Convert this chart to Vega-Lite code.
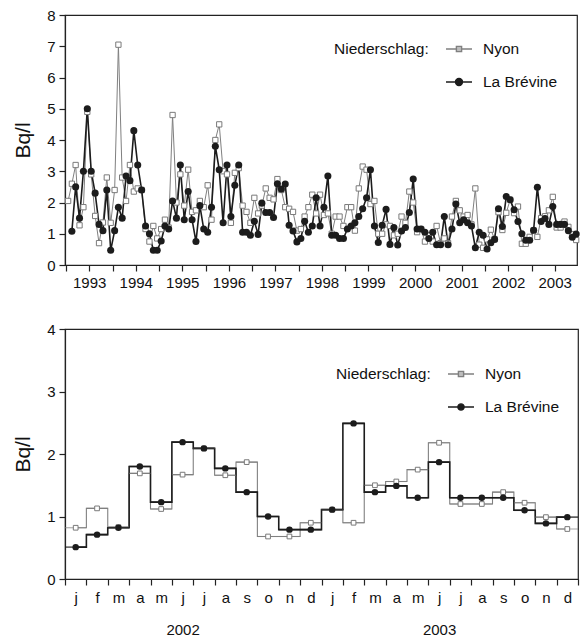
{
  "$schema": "https://vega.github.io/schema/vega-lite/v6.json",
  "padding": {"left": 12, "top": 7, "right": 4, "bottom": 0},
  "spacing": 30,
  "config": {
    "font": "Liberation Sans",
    "view": {"stroke": "#222", "strokeWidth": 1.2},
    "axis": {"domainColor": "#222", "domainWidth": 1.2, "tickColor": "#222", "tickWidth": 1.2, "tickSize": 6, "labelFontSize": 15, "labelColor": "#111", "titleColor": "#111", "titleFontWeight": "normal", "titleFontSize": 21, "grid": false, "labelPadding": 4},
    "legend": {"orient": "none", "titleOrient": "left", "titleAnchor": "start", "titleBaseline": "line-top", "titleLineHeight": 30, "titleFontSize": 15.5, "titleFontWeight": "normal", "titleColor": "#111", "labelFontSize": 15.5, "labelColor": "#111", "symbolSize": 676, "symbolStrokeWidth": 1.4, "symbolOpacity": 1, "rowPadding": 10, "titlePadding": 16, "labelOffset": 10, "padding": 0}
  },
  "resolve": {
    "scale": {"shape": "independent", "stroke": "independent", "fill": "independent"},
    "legend": {"shape": "independent", "stroke": "independent", "fill": "independent"}
  },
  "datasets": {
    "monthly": [
      {"d": "1993-01", "Nyon": 2.05, "La Brévine": null},
      {"d": "1993-02", "Nyon": 2.6, "La Brévine": 1.08},
      {"d": "1993-03", "Nyon": 3.2, "La Brévine": 2.5},
      {"d": "1993-04", "Nyon": 1.27, "La Brévine": 1.5},
      {"d": "1993-05", "Nyon": 1.85, "La Brévine": 3.0},
      {"d": "1993-06", "Nyon": 4.9, "La Brévine": 5.0},
      {"d": "1993-07", "Nyon": 2.9, "La Brévine": 3.0},
      {"d": "1993-08", "Nyon": 1.57, "La Brévine": 2.3},
      {"d": "1993-09", "Nyon": 0.7, "La Brévine": 1.3},
      {"d": "1993-10", "Nyon": 1.36, "La Brévine": 1.1},
      {"d": "1993-11", "Nyon": 2.8, "La Brévine": 2.4},
      {"d": "1993-12", "Nyon": 1.35, "La Brévine": 0.47},
      {"d": "1994-01", "Nyon": 2.4, "La Brévine": 1.1},
      {"d": "1994-02", "Nyon": 7.05, "La Brévine": 1.85},
      {"d": "1994-03", "Nyon": 2.8, "La Brévine": 1.5},
      {"d": "1994-04", "Nyon": 2.05, "La Brévine": 2.85},
      {"d": "1994-05", "Nyon": 3.2, "La Brévine": 2.7},
      {"d": "1994-06", "Nyon": 2.35, "La Brévine": 4.3},
      {"d": "1994-07", "Nyon": 2.45, "La Brévine": 3.2},
      {"d": "1994-08", "Nyon": 2.4, "La Brévine": 2.4},
      {"d": "1994-09", "Nyon": 1.15, "La Brévine": 1.25},
      {"d": "1994-10", "Nyon": 0.75, "La Brévine": 1.0},
      {"d": "1994-11", "Nyon": 1.25, "La Brévine": 0.47},
      {"d": "1994-12", "Nyon": 0.85, "La Brévine": 0.47},
      {"d": "1995-01", "Nyon": 1.15, "La Brévine": 0.77},
      {"d": "1995-02", "Nyon": 1.45, "La Brévine": 1.25},
      {"d": "1995-03", "Nyon": 1.2, "La Brévine": 1.15},
      {"d": "1995-04", "Nyon": 4.8, "La Brévine": 2.05},
      {"d": "1995-05", "Nyon": 2.0, "La Brévine": 1.5},
      {"d": "1995-06", "Nyon": 2.9, "La Brévine": 3.2},
      {"d": "1995-07", "Nyon": 1.9, "La Brévine": 1.45},
      {"d": "1995-08", "Nyon": 3.05, "La Brévine": 2.35},
      {"d": "1995-09", "Nyon": 1.7, "La Brévine": 1.45},
      {"d": "1995-10", "Nyon": 1.75, "La Brévine": 0.75},
      {"d": "1995-11", "Nyon": 2.05, "La Brévine": 1.9},
      {"d": "1995-12", "Nyon": 1.85, "La Brévine": 1.15},
      {"d": "1996-01", "Nyon": 2.55, "La Brévine": 1.05},
      {"d": "1996-02", "Nyon": 1.45, "La Brévine": 1.85},
      {"d": "1996-03", "Nyon": 4.0, "La Brévine": 3.8},
      {"d": "1996-04", "Nyon": 4.5, "La Brévine": 3.05},
      {"d": "1996-05", "Nyon": 3.0, "La Brévine": 1.35},
      {"d": "1996-06", "Nyon": 2.9, "La Brévine": 3.2},
      {"d": "1996-07", "Nyon": 1.35, "La Brévine": 1.55},
      {"d": "1996-08", "Nyon": 2.95, "La Brévine": 2.55},
      {"d": "1996-09", "Nyon": 3.1, "La Brévine": 3.2},
      {"d": "1996-10", "Nyon": 1.9, "La Brévine": 1.05},
      {"d": "1996-11", "Nyon": 1.7, "La Brévine": 1.05},
      {"d": "1996-12", "Nyon": 1.35, "La Brévine": 0.95},
      {"d": "1997-01", "Nyon": 2.15, "La Brévine": 1.4},
      {"d": "1997-02", "Nyon": 1.65, "La Brévine": 0.98},
      {"d": "1997-03", "Nyon": 1.9, "La Brévine": 1.98},
      {"d": "1997-04", "Nyon": 2.45, "La Brévine": 1.68},
      {"d": "1997-05", "Nyon": 2.15, "La Brévine": 1.68},
      {"d": "1997-06", "Nyon": 2.1, "La Brévine": 1.52},
      {"d": "1997-07", "Nyon": 2.75, "La Brévine": 2.6},
      {"d": "1997-08", "Nyon": 2.4, "La Brévine": 2.43},
      {"d": "1997-09", "Nyon": 1.85, "La Brévine": 2.59},
      {"d": "1997-10", "Nyon": 1.8, "La Brévine": 1.27},
      {"d": "1997-11", "Nyon": 1.7, "La Brévine": 1.09},
      {"d": "1997-12", "Nyon": 1.1, "La Brévine": 0.74},
      {"d": "1998-01", "Nyon": 1.15, "La Brévine": 0.85},
      {"d": "1998-02", "Nyon": 1.55, "La Brévine": 1.4},
      {"d": "1998-03", "Nyon": 1.85, "La Brévine": 1.05},
      {"d": "1998-04", "Nyon": 2.25, "La Brévine": 1.25},
      {"d": "1998-05", "Nyon": 1.65, "La Brévine": 2.15},
      {"d": "1998-06", "Nyon": 2.25, "La Brévine": 1.25},
      {"d": "1998-07", "Nyon": 1.6, "La Brévine": 1.85},
      {"d": "1998-08", "Nyon": 1.65, "La Brévine": 2.85},
      {"d": "1998-09", "Nyon": 1.0, "La Brévine": 0.95},
      {"d": "1998-10", "Nyon": 1.55, "La Brévine": 0.95},
      {"d": "1998-11", "Nyon": 1.55, "La Brévine": 0.85},
      {"d": "1998-12", "Nyon": 1.25, "La Brévine": 0.85},
      {"d": "1999-01", "Nyon": 1.85, "La Brévine": 1.15},
      {"d": "1999-02", "Nyon": 1.85, "La Brévine": 1.25},
      {"d": "1999-03", "Nyon": 1.1, "La Brévine": 1.35},
      {"d": "1999-04", "Nyon": 2.45, "La Brévine": 1.55},
      {"d": "1999-05", "Nyon": 3.15, "La Brévine": 1.8},
      {"d": "1999-06", "Nyon": 3.05, "La Brévine": 2.15},
      {"d": "1999-07", "Nyon": 1.95, "La Brévine": 3.05},
      {"d": "1999-08", "Nyon": 2.05, "La Brévine": 1.25},
      {"d": "1999-09", "Nyon": 1.0, "La Brévine": 0.72},
      {"d": "1999-10", "Nyon": 1.0, "La Brévine": 1.27},
      {"d": "1999-11", "Nyon": 1.3, "La Brévine": 1.78},
      {"d": "1999-12", "Nyon": 1.25, "La Brévine": 0.66},
      {"d": "2000-01", "Nyon": 0.95, "La Brévine": 1.2},
      {"d": "2000-02", "Nyon": 1.0, "La Brévine": 0.64},
      {"d": "2000-03", "Nyon": 1.55, "La Brévine": 1.09},
      {"d": "2000-04", "Nyon": 1.35, "La Brévine": 1.2},
      {"d": "2000-05", "Nyon": 2.35, "La Brévine": 1.68},
      {"d": "2000-06", "Nyon": 2.0, "La Brévine": 2.75},
      {"d": "2000-07", "Nyon": 1.05, "La Brévine": 1.15},
      {"d": "2000-08", "Nyon": 1.15, "La Brévine": 1.15},
      {"d": "2000-09", "Nyon": 0.75, "La Brévine": 1.05},
      {"d": "2000-10", "Nyon": 0.95, "La Brévine": 0.85},
      {"d": "2000-11", "Nyon": 0.75, "La Brévine": 1.05},
      {"d": "2000-12", "Nyon": 1.25, "La Brévine": 0.65},
      {"d": "2001-01", "Nyon": 0.7, "La Brévine": 0.65},
      {"d": "2001-02", "Nyon": 0.85, "La Brévine": 1.55},
      {"d": "2001-03", "Nyon": 0.7, "La Brévine": 0.65},
      {"d": "2001-04", "Nyon": 1.55, "La Brévine": 1.15},
      {"d": "2001-05", "Nyon": 2.05, "La Brévine": 1.95},
      {"d": "2001-06", "Nyon": 1.75, "La Brévine": 1.35},
      {"d": "2001-07", "Nyon": 1.55, "La Brévine": 1.45},
      {"d": "2001-08", "Nyon": 1.6, "La Brévine": 1.35},
      {"d": "2001-09", "Nyon": 1.3, "La Brévine": 1.25},
      {"d": "2001-10", "Nyon": 2.45, "La Brévine": 0.55},
      {"d": "2001-11", "Nyon": 0.65, "La Brévine": 1.05},
      {"d": "2001-12", "Nyon": 0.55, "La Brévine": 0.95},
      {"d": "2002-01", "Nyon": 0.82, "La Brévine": 0.51},
      {"d": "2002-02", "Nyon": 1.13, "La Brévine": 0.71},
      {"d": "2002-03", "Nyon": 0.83, "La Brévine": 0.82},
      {"d": "2002-04", "Nyon": 1.69, "La Brévine": 1.8},
      {"d": "2002-05", "Nyon": 1.12, "La Brévine": 1.23},
      {"d": "2002-06", "Nyon": 1.67, "La Brévine": 2.19},
      {"d": "2002-07", "Nyon": 2.09, "La Brévine": 2.09},
      {"d": "2002-08", "Nyon": 1.66, "La Brévine": 1.77},
      {"d": "2002-09", "Nyon": 1.87, "La Brévine": 1.39},
      {"d": "2002-10", "Nyon": 0.68, "La Brévine": 1.0},
      {"d": "2002-11", "Nyon": 0.68, "La Brévine": 0.79},
      {"d": "2002-12", "Nyon": 0.9, "La Brévine": 0.79},
      {"d": "2003-01", "Nyon": 1.11, "La Brévine": 1.11},
      {"d": "2003-02", "Nyon": 0.9, "La Brévine": 2.49},
      {"d": "2003-03", "Nyon": 1.5, "La Brévine": 1.39},
      {"d": "2003-04", "Nyon": 1.56, "La Brévine": 1.49},
      {"d": "2003-05", "Nyon": 1.75, "La Brévine": 1.3},
      {"d": "2003-06", "Nyon": 2.18, "La Brévine": 1.87},
      {"d": "2003-07", "Nyon": 1.2, "La Brévine": 1.3},
      {"d": "2003-08", "Nyon": 1.2, "La Brévine": 1.3},
      {"d": "2003-09", "Nyon": 1.39, "La Brévine": 1.3},
      {"d": "2003-10", "Nyon": 1.22, "La Brévine": 1.1},
      {"d": "2003-11", "Nyon": 0.99, "La Brévine": 0.89},
      {"d": "2003-12", "Nyon": 0.8, "La Brévine": 0.99}
    ]
  },
  "vconcat": [
    {
      "width": 512,
      "height": 250,
      "data": {"name": "monthly"},
      "encoding": {
        "x": {
          "field": "d", "timeUnit": "utcyearmonth", "type": "temporal", "bandPosition": 0.5,
          "scale": {"domain": [{"year": 1992, "month": 12, "date": 23, "utc": true}, {"year": 2003, "month": 12, "date": 23, "utc": true}]},
          "axis": {"title": null, "tickCount": {"interval": "month", "step": 6}, "labelExpr": "utcmonth(datum.value) == 6 ? utcFormat(datum.value, '%Y') : ''", "labelFlush": false, "labelOverlap": false, "labelPadding": 4}
        }
      },
      "layer": [
        {
          "mark": {"type": "line", "stroke": "#808080", "strokeWidth": 1},
          "encoding": {"y": {"field": "Nyon", "type": "quantitative", "scale": {"domain": [0, 8], "nice": false}, "axis": {"title": "Bq/l", "values": [0, 1, 2, 3, 4, 5, 6, 7, 8], "format": "d", "labelOverlap": false, "titlePadding": 13}}}
        },
        {
          "mark": {"type": "line", "stroke": "#1c1c1c", "strokeWidth": 1.6},
          "encoding": {"y": {"field": "La Brévine", "type": "quantitative", "axis": {"title": "Bq/l", "values": [0, 1, 2, 3, 4, 5, 6, 7, 8], "format": "d", "labelOverlap": false, "titlePadding": 13}}}
        },
        {
          "mark": {"type": "point", "shape": "square", "filled": true, "fill": "#ffffff", "stroke": "#7a7a7a", "strokeWidth": 1, "size": 28, "opacity": 1},
          "encoding": {"y": {"field": "Nyon", "type": "quantitative", "axis": {"title": "Bq/l", "values": [0, 1, 2, 3, 4, 5, 6, 7, 8], "format": "d", "labelOverlap": false, "titlePadding": 13}}}
        },
        {
          "mark": {"type": "point", "shape": "circle", "filled": true, "fill": "#1c1c1c", "size": 50, "opacity": 1},
          "encoding": {"y": {"field": "La Brévine", "type": "quantitative", "axis": {"title": "Bq/l", "values": [0, 1, 2, 3, 4, 5, 6, 7, 8], "format": "d", "labelOverlap": false, "titlePadding": 13}}}
        },
        {
          "transform": [{"fold": ["Nyon", "La Brévine"], "as": ["serie", "val"]}, {"filter": "false"}],
          "mark": {"type": "point", "filled": true, "opacity": 1},
          "encoding": {
            "y": {"field": "val", "type": "quantitative", "axis": {"title": "Bq/l", "values": [0, 1, 2, 3, 4, 5, 6, 7, 8], "format": "d", "labelOverlap": false, "titlePadding": 13}},
            "shape": {"field": "serie", "type": "nominal", "scale": {"domain": ["Nyon", "La Brévine"], "range": ["M-1,0H-0.2M0.2,0H1M-0.2,-0.2H0.2V0.2H-0.2Z", "M-1,0H1M0.27,0A0.27,0.27,0,1,1,-0.27,0A0.27,0.27,0,1,1,0.27,0Z"]},
              "legend": {"title": "Niederschlag:", "legendX": 269, "legendY": 20}},
            "stroke": {"field": "serie", "type": "nominal", "scale": {"domain": ["Nyon", "La Brévine"], "range": ["#808080", "#1c1c1c"]}},
            "fill": {"field": "serie", "type": "nominal", "scale": {"domain": ["Nyon", "La Brévine"], "range": ["#bdbdbd", "#1c1c1c"]}}
          }
        }
      ]
    },
    {
      "width": 513,
      "height": 250,
      "data": {"name": "monthly"},
      "transform": [{"filter": "utcyear(toDate(datum.d)) >= 2002"}],
      "encoding": {
        "x": {
          "field": "d", "timeUnit": "utcyearmonth", "type": "ordinal",
          "scale": {"type": "band", "paddingInner": 0, "paddingOuter": 0},
          "axis": {"title": null, "tickBand": "extent", "labelAngle": 0, "labelOverlap": false, "labelLineHeight": 32, "labelExpr": "utcmonth(datum.value) == 5 ? [lower(slice(utcFormat(datum.value, '%b'), 0, 1)), '\u2002\u2002\u2002\u2002' + utcFormat(datum.value, '%Y')] : lower(slice(utcFormat(datum.value, '%b'), 0, 1))", "labelPadding": 5}
        }
      },
      "layer": [
        {
          "mark": {"type": "line", "interpolate": "step", "stroke": "#808080", "strokeWidth": 1.1},
          "encoding": {"y": {"field": "Nyon", "type": "quantitative", "scale": {"domain": [0, 4], "nice": false}, "axis": {"title": "Bq/l", "values": [0, 1, 2, 3, 4], "format": "d", "labelOverlap": false, "titlePadding": 13}}}
        },
        {
          "mark": {"type": "line", "interpolate": "step", "stroke": "#1c1c1c", "strokeWidth": 1.6},
          "encoding": {"y": {"field": "La Brévine", "type": "quantitative", "axis": {"title": "Bq/l", "values": [0, 1, 2, 3, 4], "format": "d", "labelOverlap": false, "titlePadding": 13}}}
        },
        {
          "mark": {"type": "tick", "color": "#808080", "thickness": 1.1, "size": 21.4},
          "encoding": {"y": {"field": "Nyon", "type": "quantitative", "axis": {"title": "Bq/l", "values": [0, 1, 2, 3, 4], "format": "d", "labelOverlap": false, "titlePadding": 13}}}
        },
        {
          "mark": {"type": "tick", "color": "#1c1c1c", "thickness": 1.6, "size": 21.4},
          "encoding": {"y": {"field": "La Brévine", "type": "quantitative", "axis": {"title": "Bq/l", "values": [0, 1, 2, 3, 4], "format": "d", "labelOverlap": false, "titlePadding": 13}}}
        },
        {
          "mark": {"type": "point", "shape": "square", "filled": true, "fill": "#ffffff", "stroke": "#7a7a7a", "strokeWidth": 1, "size": 22, "opacity": 1},
          "encoding": {"y": {"field": "Nyon", "type": "quantitative", "axis": {"title": "Bq/l", "values": [0, 1, 2, 3, 4], "format": "d", "labelOverlap": false, "titlePadding": 13}}}
        },
        {
          "mark": {"type": "point", "shape": "circle", "filled": true, "fill": "#1c1c1c", "size": 42, "opacity": 1},
          "encoding": {"y": {"field": "La Brévine", "type": "quantitative", "axis": {"title": "Bq/l", "values": [0, 1, 2, 3, 4], "format": "d", "labelOverlap": false, "titlePadding": 13}}}
        },
        {
          "transform": [{"fold": ["Nyon", "La Brévine"], "as": ["serie", "val"]}, {"filter": "false"}],
          "mark": {"type": "point", "filled": true, "opacity": 1},
          "encoding": {
            "y": {"field": "val", "type": "quantitative", "axis": {"title": "Bq/l", "values": [0, 1, 2, 3, 4], "format": "d", "labelOverlap": false, "titlePadding": 13}},
            "shape": {"field": "serie", "type": "nominal", "scale": {"domain": ["Nyon", "La Brévine"], "range": ["M-1,0H-0.2M0.2,0H1M-0.2,-0.2H0.2V0.2H-0.2Z", "M-1,0H1M0.24,0A0.24,0.24,0,1,1,-0.24,0A0.24,0.24,0,1,1,0.24,0Z"]},
              "legend": {"title": "Niederschlag:", "legendX": 271, "legendY": 31}},
            "stroke": {"field": "serie", "type": "nominal", "scale": {"domain": ["Nyon", "La Brévine"], "range": ["#808080", "#1c1c1c"]}},
            "fill": {"field": "serie", "type": "nominal", "scale": {"domain": ["Nyon", "La Brévine"], "range": ["#bdbdbd", "#1c1c1c"]}}
          }
        }
      ]
    }
  ]
}
